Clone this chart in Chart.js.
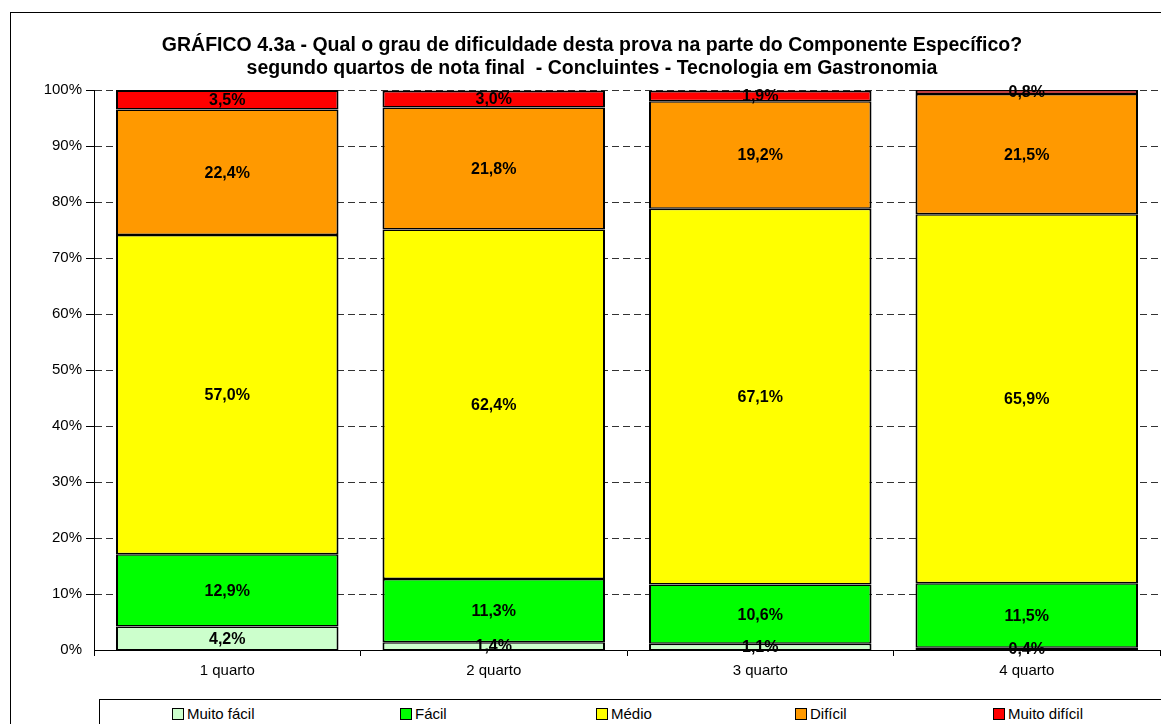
<!DOCTYPE html>
<html>
<head>
<meta charset="utf-8">
<script src="https://cdn.jsdelivr.net/npm/chart.js@4.4.1/dist/chart.umd.min.js"></script>
<style>
  body { margin: 0; background: #fff; font-family: "Liberation Sans", Arial, sans-serif; }
  #frame { position: absolute; left: 10px; top: 12px; width: 1200px; height: 800px; border: 1px solid #000; }
  #wrap { position: absolute; left: 0; top: 1px; width: 1161px; height: 685px; }
  #legend {
    position: absolute; left: 99px; top: 699px; width: 1100px; height: 40px;
    border: 1px solid #000; background: #fff; font-size: 15px; color: #000;
  }
  #legend span.item { position: absolute; top: 5px; white-space: nowrap; }
  #legend i {
    display: inline-block; width: 10px; height: 10px; border: 1px solid #000;
    margin-right: 3px; vertical-align: -1px;
  }
</style>
</head>
<body>
<div id="frame"></div>
<div id="wrap"><canvas id="chart"></canvas></div>
<div id="legend"></div>
<script>
const categories = ["1 quarto", "2 quarto", "3 quarto", "4 quarto"];
const seriesNames = ["Muito fácil", "Fácil", "Médio", "Difícil", "Muito difícil"];
const muitoFacil = [4.2, 1.4, 1.1, 0.4];
const facil = [12.9, 11.3, 10.6, 11.5];
const medio = [57.0, 62.4, 67.1, 65.9];
const dificil = [22.4, 21.8, 19.2, 21.5];
const muitoDificil = [3.5, 3.0, 1.9, 0.8];
const colors = ["#CCFFCC", "#00FF00", "#FFFF00", "#FF9900", "#FF0000"];
const yTicks = [0, 10, 20, 30, 40, 50, 60, 70, 80, 90, 100];
const legendX = [72, 300, 496, 695, 893];

const FONT = '"Liberation Sans", Arial, sans-serif';
const seriesData = [muitoFacil, facil, medio, dificil, muitoDificil];

// draws the value of each segment in its middle
const segmentLabels = {
  id: "segmentLabels",
  afterDatasetsDraw(chart) {
    const ctx = chart.ctx;
    ctx.save();
    ctx.font = "bold 16px " + FONT;
    ctx.fillStyle = "#000";
    ctx.textAlign = "center";
    ctx.textBaseline = "middle";
    chart.data.datasets.forEach((ds, i) => {
      chart.getDatasetMeta(i).data.forEach((bar, j) => {
        const txt = ds.data[j].toFixed(1).replace(".", ",") + "%";
        ctx.fillText(txt, bar.x, (bar.y + bar.base) / 2 + 1);
      });
    });
    ctx.restore();
  },
};

const datasets = seriesNames.map((name, i) => ({
  label: name,
  data: seriesData[i],
  backgroundColor: colors[i],
  borderColor: "#000",
  borderWidth: { top: i === 4 ? 2 : 1.5, bottom: i === 0 ? 1 : 1.5, left: 2, right: 2 },
  borderSkipped: false,
  inflateAmount: 0,
  barPercentage: 0.835,
  categoryPercentage: 1,
}));

new Chart(document.getElementById("chart"), {
  type: "bar",
  data: { labels: categories, datasets },
  options: {
    responsive: true,
    maintainAspectRatio: false,
    animation: false,
    layout: { padding: { left: 24, right: 1, top: 0, bottom: 0 } },
    plugins: {
      legend: { display: false },
      tooltip: { enabled: false },
      title: {
        display: true,
        text: [
          "GRÁFICO 4.3a - Qual o grau de dificuldade desta prova na parte do Componente Específico?",
          "segundo quartos de nota final  - Concluintes - Tecnologia em Gastronomia",
        ],
        color: "#000",
        font: { family: FONT, size: 19.5, weight: "bold", lineHeight: 1.18 },
        padding: { top: 33, bottom: 10 },
      },
    },
    scales: {
      x: {
        stacked: true,
        border: { display: true, color: "#000", width: 1 },
        grid: { display: true, drawOnChartArea: false, drawTicks: true, tickLength: 6, color: "#000", offset: true },
        ticks: { color: "#000", font: { family: FONT, size: 15 }, padding: 6 },
      },
      y: {
        stacked: true,
        min: 0,
        max: 100,
        afterFit(scale) { scale.width = 70; },
        afterBuildTicks(scale) { scale.ticks = yTicks.map((v) => ({ value: v })); },
        border: { display: true, color: "#000", width: 1, dash: [7, 4] },
        grid: {
          color: "#333",
          tickColor: "#000",
          tickLength: 8,
          tickBorderDash: [],
          lineWidth: (c) => (c.tick && c.tick.value === 0 ? 0 : 1),
        },
        ticks: {
          color: "#000",
          font: { family: FONT, size: 15 },
          padding: 4,
          callback: (v) => v + "%",
        },
      },
    },
  },
  plugins: [segmentLabels],
});

const legend = document.getElementById("legend");
seriesNames.forEach((name, i) => {
  const item = document.createElement("span");
  item.className = "item";
  item.style.left = legendX[i] + "px";
  item.innerHTML = `<i style="background:${colors[i]}"></i>${name}`;
  legend.appendChild(item);
});
</script>
</body>
</html>
